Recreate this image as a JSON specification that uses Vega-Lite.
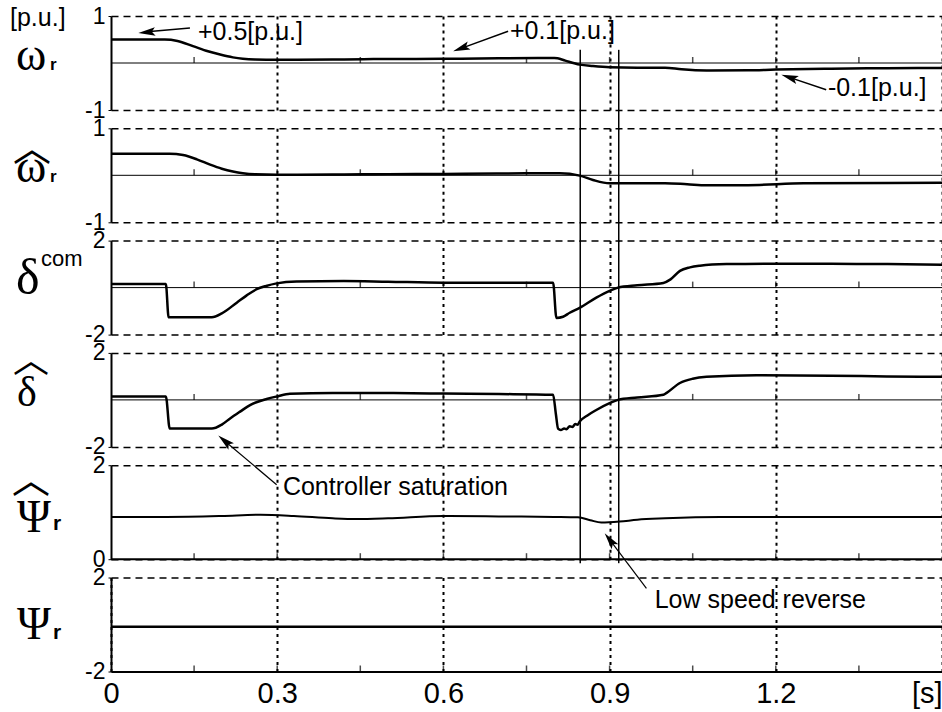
{
"$schema": "https://vega.github.io/schema/vega-lite/v6.json",
"padding": {"left": 10, "top": 5, "right": 0, "bottom": 0},
"background": "white",
"bounds": "flush",
"spacing": 18.3,
"datasets": {
"one": [{}],
"mt": [{"t":0.15},{"t":0.3},{"t":0.45},{"t":0.6},{"t":0.75},{"t":0.9},{"t":1.05},{"t":1.2},{"t":1.35}],
"sw": [{"t":0.847},{"t":0.9165}],
"w": [{"t":0,"v":0.5},{"t":0.097,"v":0.5},{"t":0.12,"v":0.47},{"t":0.148,"v":0.36},{"t":0.175,"v":0.25},{"t":0.197,"v":0.18},{"t":0.22,"v":0.12},{"t":0.238,"v":0.09},{"t":0.26,"v":0.075},{"t":0.3,"v":0.07},{"t":0.4,"v":0.075},{"t":0.5,"v":0.085},{"t":0.6,"v":0.09},{"t":0.7,"v":0.1},{"t":0.8,"v":0.106},{"t":0.806,"v":0.1},{"t":0.82,"v":0.05},{"t":0.846,"v":-0.035},{"t":0.87,"v":-0.065},{"t":0.9,"v":-0.09},{"t":0.95,"v":-0.1},{"t":1.0,"v":-0.1},{"t":1.03,"v":-0.135},{"t":1.075,"v":-0.16},{"t":1.15,"v":-0.155},{"t":1.2,"v":-0.14},{"t":1.3,"v":-0.12},{"t":1.4,"v":-0.11},{"t":1.5,"v":-0.105}],
"wh": [{"t":0,"v":0.46},{"t":0.106,"v":0.46},{"t":0.13,"v":0.43},{"t":0.155,"v":0.34},{"t":0.179,"v":0.226},{"t":0.2,"v":0.14},{"t":0.22,"v":0.08},{"t":0.238,"v":0.043},{"t":0.26,"v":0.02},{"t":0.3,"v":0.01},{"t":0.4,"v":0.015},{"t":0.5,"v":0.025},{"t":0.6,"v":0.03},{"t":0.7,"v":0.04},{"t":0.81,"v":0.043},{"t":0.846,"v":-0.007},{"t":0.87,"v":-0.1},{"t":0.9,"v":-0.17},{"t":1.0,"v":-0.17},{"t":1.04,"v":-0.19},{"t":1.075,"v":-0.21},{"t":1.15,"v":-0.21},{"t":1.25,"v":-0.17},{"t":1.5,"v":-0.16}],
"dc": [{"t":0,"v":0.15},{"t":0.099,"v":0.15},{"t":0.104,"v":-1.26},{"t":0.182,"v":-1.26},{"t":0.2,"v":-1.1},{"t":0.227,"v":-0.64},{"t":0.245,"v":-0.33},{"t":0.263,"v":-0.07},{"t":0.28,"v":0.07},{"t":0.299,"v":0.18},{"t":0.335,"v":0.26},{"t":0.42,"v":0.28},{"t":0.5,"v":0.25},{"t":0.6,"v":0.21},{"t":0.7,"v":0.21},{"t":0.798,"v":0.21},{"t":0.804,"v":-1.29},{"t":0.816,"v":-1.24},{"t":0.828,"v":-1.07},{"t":0.846,"v":-0.86},{"t":0.876,"v":-0.43},{"t":0.9,"v":-0.14},{"t":0.915,"v":0.0},{"t":0.95,"v":0.1},{"t":0.997,"v":0.2},{"t":1.01,"v":0.35},{"t":1.027,"v":0.71},{"t":1.045,"v":0.86},{"t":1.063,"v":0.93},{"t":1.111,"v":1.0},{"t":1.2,"v":1.02},{"t":1.3,"v":1.01},{"t":1.4,"v":1.0},{"t":1.5,"v":0.97}],
"dh": [{"t":0,"v":0.15},{"t":0.099,"v":0.15},{"t":0.106,"v":-1.22},{"t":0.182,"v":-1.22},{"t":0.2,"v":-1.05},{"t":0.215,"v":-0.79},{"t":0.233,"v":-0.5},{"t":0.251,"v":-0.22},{"t":0.281,"v":0.04},{"t":0.3,"v":0.15},{"t":0.323,"v":0.26},{"t":0.4,"v":0.29},{"t":0.5,"v":0.29},{"t":0.6,"v":0.27},{"t":0.7,"v":0.25},{"t":0.798,"v":0.22},{"t":0.803,"v":-0.6},{"t":0.807,"v":-1.22},{"t":0.812,"v":-1.28},{"t":0.818,"v":-1.22},{"t":0.822,"v":-1.25},{"t":0.828,"v":-1.12},{"t":0.833,"v":-1.15},{"t":0.838,"v":-1.03},{"t":0.842,"v":-1.06},{"t":0.846,"v":-0.92},{"t":0.86,"v":-0.66},{"t":0.876,"v":-0.43},{"t":0.9,"v":-0.14},{"t":0.915,"v":0.0},{"t":0.95,"v":0.1},{"t":0.997,"v":0.22},{"t":1.003,"v":0.3},{"t":1.027,"v":0.72},{"t":1.05,"v":0.9},{"t":1.075,"v":0.98},{"t":1.165,"v":1.05},{"t":1.3,"v":1.03},{"t":1.4,"v":1.0},{"t":1.5,"v":0.98}],
"ph": [{"t":0,"v":0.9},{"t":0.1,"v":0.9},{"t":0.2,"v":0.92},{"t":0.27,"v":0.945},{"t":0.33,"v":0.92},{"t":0.4,"v":0.87},{"t":0.443,"v":0.855},{"t":0.5,"v":0.87},{"t":0.6,"v":0.92},{"t":0.7,"v":0.91},{"t":0.8,"v":0.9},{"t":0.843,"v":0.89},{"t":0.865,"v":0.83},{"t":0.885,"v":0.78},{"t":0.918,"v":0.8},{"t":0.95,"v":0.84},{"t":1.0,"v":0.87},{"t":1.1,"v":0.9},{"t":1.5,"v":0.9}],
"p": [{"t":0,"v":-0.1},{"t":1.5,"v":-0.1}]
},
"vconcat": [
{"width": 831, "height": 94, "layer": [
 {"data": {"name": "w"}, "mark": {"type": "line", "color": "black", "strokeWidth": 2.5, "interpolate": "monotone"},
  "encoding": {"x": {"field": "t", "type": "quantitative", "scale": {"domain": [0, 1.5], "nice": false, "zero": false}, "axis": {"values": [0.3, 0.6, 0.9, 1.2, 1.5]}, "title": null},
   "y": {"field": "v", "type": "quantitative", "scale": {"domain": [-1, 1], "nice": false, "zero": false}, "axis": {"values": [-1, 1], "labelExpr": "datum.value < 0 ? '-' + abs(datum.value) : '' + datum.value"}, "title": null}}},
 {"data": {"name": "one"}, "mark": {"type": "rule", "color": "black", "strokeWidth": 1}, "encoding": {"y": {"datum": 0, "type": "quantitative", "title": null}}},
 {"data": {"name": "mt"}, "mark": {"type": "tick", "orient": "vertical", "size": 6, "thickness": 1.5, "color": "black", "yOffset": -3}, "encoding": {"x": {"field": "t", "type": "quantitative", "title": null}, "y": {"datum": 0, "type": "quantitative", "title": null}}},
 {"data": {"name": "sw"}, "mark": {"type": "rule", "color": "black", "strokeWidth": 1.5}, "encoding": {"x": {"field": "t", "type": "quantitative", "title": null}, "y": {"datum": 0.28, "type": "quantitative", "title": null}, "y2": {"datum": -1.42}}},
 {"data": {"name": "one"}, "mark": {"type": "text", "text": "[p.u.]", "font": "Liberation Sans", "fontSize": 25, "align": "left", "baseline": "alphabetic", "dx": -101, "dy": 10, "color": "black"}, "encoding": {"x": {"datum": 0, "type": "quantitative", "title": null}, "y": {"datum": 1, "type": "quantitative", "title": null}}},
 {"data": {"name": "one"}, "mark": {"type": "text", "text": "ω", "font": "Liberation Serif", "fontSize": 46, "align": "left", "baseline": "alphabetic", "dx": -95, "dy": 7, "color": "black"}, "encoding": {"x": {"datum": 0, "type": "quantitative", "title": null}, "y": {"datum": 0, "type": "quantitative", "title": null}}},
 {"data": {"name": "one"}, "mark": {"type": "text", "text": "r", "font": "Liberation Sans", "fontSize": 17, "fontWeight": "bold", "align": "left", "baseline": "alphabetic", "dx": -61, "dy": 7, "color": "black"}, "encoding": {"x": {"datum": 0, "type": "quantitative", "title": null}, "y": {"datum": 0, "type": "quantitative", "title": null}}},
 {"data": {"name": "one"}, "mark": {"type": "text", "text": "+0.5[p.u.]", "font": "Liberation Sans", "fontSize": 25, "align": "left", "baseline": "alphabetic", "color": "black"}, "encoding": {"x": {"datum": 0.157, "type": "quantitative", "title": null}, "y": {"datum": 0.483, "type": "quantitative", "title": null}}},
 {"data": {"name": "one"}, "mark": {"type": "rule", "color": "black", "strokeWidth": 1.5}, "encoding": {"x": {"datum": 0.1425, "type": "quantitative", "title": null}, "y": {"datum": 0.745, "type": "quantitative", "title": null}, "x2": {"datum": 0.06}, "y2": {"datum": 0.66}}},
 {"data": {"name": "one"}, "mark": {"type": "point", "shape": "M-1,0L1,-0.5L0.6,0L1,0.5Z", "filled": true, "color": "black", "opacity": 1, "size": 289, "angle": -5.5}, "encoding": {"x": {"datum": 0.0646, "type": "quantitative", "title": null}, "y": {"datum": 0.655, "type": "quantitative", "title": null}}},
 {"data": {"name": "one"}, "mark": {"type": "text", "text": "+0.1[p.u.]", "font": "Liberation Sans", "fontSize": 25, "align": "left", "baseline": "alphabetic", "color": "black"}, "encoding": {"x": {"datum": 0.72, "type": "quantitative", "title": null}, "y": {"datum": 0.517, "type": "quantitative", "title": null}}},
 {"data": {"name": "one"}, "mark": {"type": "rule", "color": "black", "strokeWidth": 1.5}, "encoding": {"x": {"datum": 0.7168, "type": "quantitative", "title": null}, "y": {"datum": 0.674, "type": "quantitative", "title": null}, "x2": {"datum": 0.632}, "y2": {"datum": 0.311}}},
 {"data": {"name": "one"}, "mark": {"type": "point", "shape": "M-1,0L1,-0.5L0.6,0L1,0.5Z", "filled": true, "color": "black", "opacity": 1, "size": 289, "angle": -20}, "encoding": {"x": {"datum": 0.632, "type": "quantitative", "title": null}, "y": {"datum": 0.311, "type": "quantitative", "title": null}}},
 {"data": {"name": "one"}, "mark": {"type": "text", "text": "-0.1[p.u.]", "font": "Liberation Sans", "fontSize": 25, "align": "left", "baseline": "alphabetic", "color": "black"}, "encoding": {"x": {"datum": 1.294, "type": "quantitative", "title": null}, "y": {"datum": -0.709, "type": "quantitative", "title": null}}},
 {"data": {"name": "one"}, "mark": {"type": "rule", "color": "black", "strokeWidth": 1.5}, "encoding": {"x": {"datum": 1.291, "type": "quantitative", "title": null}, "y": {"datum": -0.568, "type": "quantitative", "title": null}, "x2": {"datum": 1.2246}, "y2": {"datum": -0.306}}},
 {"data": {"name": "one"}, "mark": {"type": "point", "shape": "M-1,0L1,-0.5L0.6,0L1,0.5Z", "filled": true, "color": "black", "opacity": 1, "size": 289, "angle": 18.4}, "encoding": {"x": {"datum": 1.2246, "type": "quantitative", "title": null}, "y": {"datum": -0.306, "type": "quantitative", "title": null}}}
]},
{"width": 831, "height": 94, "layer": [
 {"data": {"name": "wh"}, "mark": {"type": "line", "color": "black", "strokeWidth": 2.5, "interpolate": "monotone"},
  "encoding": {"x": {"field": "t", "type": "quantitative", "scale": {"domain": [0, 1.5], "nice": false, "zero": false}, "axis": {"values": [0.3, 0.6, 0.9, 1.2, 1.5]}, "title": null},
   "y": {"field": "v", "type": "quantitative", "scale": {"domain": [-1, 1], "nice": false, "zero": false}, "axis": {"values": [-1, 1], "labelExpr": "datum.value < 0 ? '-' + abs(datum.value) : '' + datum.value"}, "title": null}}},
 {"data": {"name": "one"}, "mark": {"type": "rule", "color": "black", "strokeWidth": 1}, "encoding": {"y": {"datum": 0, "type": "quantitative", "title": null}}},
 {"data": {"name": "mt"}, "mark": {"type": "tick", "orient": "vertical", "size": 6, "thickness": 1.5, "color": "black", "yOffset": -3}, "encoding": {"x": {"field": "t", "type": "quantitative", "title": null}, "y": {"datum": 0, "type": "quantitative", "title": null}}},
 {"data": {"name": "sw"}, "mark": {"type": "rule", "color": "black", "strokeWidth": 1.5}, "encoding": {"x": {"field": "t", "type": "quantitative", "title": null}, "y": {"datum": 1, "type": "quantitative", "title": null}, "y2": {"datum": -1.42}}},
 {"data": {"name": "one"}, "mark": {"type": "text", "text": "︿", "font": "Noto Sans CJK SC", "fontSize": 38, "align": "center", "baseline": "middle", "dx": -79, "dy": -25, "color": "black"}, "encoding": {"x": {"datum": 0, "type": "quantitative", "title": null}, "y": {"datum": 0, "type": "quantitative", "title": null}}},
 {"data": {"name": "one"}, "mark": {"type": "text", "text": "ω", "font": "Liberation Serif", "fontSize": 46, "align": "left", "baseline": "alphabetic", "dx": -95, "dy": 6.3, "color": "black"}, "encoding": {"x": {"datum": 0, "type": "quantitative", "title": null}, "y": {"datum": 0, "type": "quantitative", "title": null}}},
 {"data": {"name": "one"}, "mark": {"type": "text", "text": "r", "font": "Liberation Sans", "fontSize": 17, "fontWeight": "bold", "align": "left", "baseline": "alphabetic", "dx": -61, "dy": 6.3, "color": "black"}, "encoding": {"x": {"datum": 0, "type": "quantitative", "title": null}, "y": {"datum": 0, "type": "quantitative", "title": null}}}
]},
{"width": 831, "height": 94, "layer": [
 {"data": {"name": "dc"}, "mark": {"type": "line", "color": "black", "strokeWidth": 2.5, "interpolate": "monotone"},
  "encoding": {"x": {"field": "t", "type": "quantitative", "scale": {"domain": [0, 1.5], "nice": false, "zero": false}, "axis": {"values": [0.3, 0.6, 0.9, 1.2, 1.5]}, "title": null},
   "y": {"field": "v", "type": "quantitative", "scale": {"domain": [-2, 2], "nice": false, "zero": false}, "axis": {"values": [-2, 2], "labelExpr": "datum.value < 0 ? '-' + abs(datum.value) : '' + datum.value"}, "title": null}}},
 {"data": {"name": "one"}, "mark": {"type": "rule", "color": "black", "strokeWidth": 1}, "encoding": {"y": {"datum": 0, "type": "quantitative", "title": null}}},
 {"data": {"name": "mt"}, "mark": {"type": "tick", "orient": "vertical", "size": 6, "thickness": 1.5, "color": "black", "yOffset": -3}, "encoding": {"x": {"field": "t", "type": "quantitative", "title": null}, "y": {"datum": 0, "type": "quantitative", "title": null}}},
 {"data": {"name": "sw"}, "mark": {"type": "rule", "color": "black", "strokeWidth": 1.5}, "encoding": {"x": {"field": "t", "type": "quantitative", "title": null}, "y": {"datum": 2, "type": "quantitative", "title": null}, "y2": {"datum": -2.82}}},
 {"data": {"name": "one"}, "mark": {"type": "text", "text": "δ", "font": "Liberation Serif", "fontSize": 50, "align": "left", "baseline": "alphabetic", "dx": -95, "dy": 6.7, "color": "black"}, "encoding": {"x": {"datum": 0, "type": "quantitative", "title": null}, "y": {"datum": 0, "type": "quantitative", "title": null}}},
 {"data": {"name": "one"}, "mark": {"type": "text", "text": "com", "font": "Liberation Sans", "fontSize": 22, "align": "left", "baseline": "alphabetic", "dx": -70, "dy": -21.3, "color": "black"}, "encoding": {"x": {"datum": 0, "type": "quantitative", "title": null}, "y": {"datum": 0, "type": "quantitative", "title": null}}}
]},
{"width": 831, "height": 94, "layer": [
 {"data": {"name": "dh"}, "mark": {"type": "line", "color": "black", "strokeWidth": 2.5, "interpolate": "monotone"},
  "encoding": {"x": {"field": "t", "type": "quantitative", "scale": {"domain": [0, 1.5], "nice": false, "zero": false}, "axis": {"values": [0.3, 0.6, 0.9, 1.2, 1.5]}, "title": null},
   "y": {"field": "v", "type": "quantitative", "scale": {"domain": [-2, 2], "nice": false, "zero": false}, "axis": {"values": [-2, 2], "labelExpr": "datum.value < 0 ? '-' + abs(datum.value) : '' + datum.value"}, "title": null}}},
 {"data": {"name": "one"}, "mark": {"type": "rule", "color": "black", "strokeWidth": 1}, "encoding": {"y": {"datum": 0, "type": "quantitative", "title": null}}},
 {"data": {"name": "mt"}, "mark": {"type": "tick", "orient": "vertical", "size": 6, "thickness": 1.5, "color": "black", "yOffset": -3}, "encoding": {"x": {"field": "t", "type": "quantitative", "title": null}, "y": {"datum": 0, "type": "quantitative", "title": null}}},
 {"data": {"name": "sw"}, "mark": {"type": "rule", "color": "black", "strokeWidth": 1.5}, "encoding": {"x": {"field": "t", "type": "quantitative", "title": null}, "y": {"datum": 2, "type": "quantitative", "title": null}, "y2": {"datum": -2.82}}},
 {"data": {"name": "one"}, "mark": {"type": "text", "text": "︿", "font": "Noto Sans CJK SC", "fontSize": 36, "align": "center", "baseline": "middle", "dx": -80, "dy": -38, "color": "black"}, "encoding": {"x": {"datum": 0, "type": "quantitative", "title": null}, "y": {"datum": 0, "type": "quantitative", "title": null}}},
 {"data": {"name": "one"}, "mark": {"type": "text", "text": "δ", "font": "Liberation Serif", "fontSize": 42, "align": "left", "baseline": "alphabetic", "dx": -94, "dy": 6.3, "color": "black"}, "encoding": {"x": {"datum": 0, "type": "quantitative", "title": null}, "y": {"datum": 0, "type": "quantitative", "title": null}}},
 {"data": {"name": "one"}, "mark": {"type": "rule", "color": "black", "strokeWidth": 1.2}, "encoding": {"x": {"datum": 0.299, "type": "quantitative", "title": null}, "y": {"datum": -3.61, "type": "quantitative", "title": null}, "x2": {"datum": 0.2053}, "y2": {"datum": -1.746}}},
 {"data": {"name": "one"}, "mark": {"type": "point", "shape": "M-1,0L1,-0.5L0.6,0L1,0.5Z", "filled": true, "color": "black", "opacity": 1, "size": 289, "angle": 40.5}, "encoding": {"x": {"datum": 0.2053, "type": "quantitative", "title": null}, "y": {"datum": -1.746, "type": "quantitative", "title": null}}}
]},
{"width": 831, "height": 94, "layer": [
 {"data": {"name": "ph"}, "mark": {"type": "line", "color": "black", "strokeWidth": 2, "interpolate": "monotone"},
  "encoding": {"x": {"field": "t", "type": "quantitative", "scale": {"domain": [0, 1.5], "nice": false, "zero": false}, "axis": {"values": [0.3, 0.6, 0.9, 1.2, 1.5]}, "title": null},
   "y": {"field": "v", "type": "quantitative", "scale": {"domain": [0, 2], "nice": false, "zero": false}, "axis": {"values": [0, 2], "labelExpr": "datum.value < 0 ? '-' + abs(datum.value) : '' + datum.value"}, "title": null}}},
 {"data": {"name": "one"}, "mark": {"type": "rule", "color": "black", "strokeWidth": 2}, "encoding": {"y": {"datum": 0, "type": "quantitative", "title": null}}},
 {"data": {"name": "mt"}, "mark": {"type": "tick", "orient": "vertical", "size": 6, "thickness": 1.5, "color": "black", "yOffset": -3}, "encoding": {"x": {"field": "t", "type": "quantitative", "title": null}, "y": {"datum": 0, "type": "quantitative", "title": null}}},
 {"data": {"name": "sw"}, "mark": {"type": "rule", "color": "black", "strokeWidth": 1.5}, "encoding": {"x": {"field": "t", "type": "quantitative", "title": null}, "y": {"datum": 2, "type": "quantitative", "title": null}, "y2": {"datum": -0.085}}},
 {"data": {"name": "one"}, "mark": {"type": "text", "text": "︿", "font": "Noto Sans CJK SC", "fontSize": 38, "align": "center", "baseline": "middle", "dx": -80, "dy": -77, "color": "black"}, "encoding": {"x": {"datum": 0, "type": "quantitative", "title": null}, "y": {"datum": 0, "type": "quantitative", "title": null}}},
 {"data": {"name": "one"}, "mark": {"type": "text", "text": "Ψ", "font": "Liberation Serif", "fontSize": 46, "align": "left", "baseline": "alphabetic", "dx": -94, "dy": -27.7, "color": "black"}, "encoding": {"x": {"datum": 0, "type": "quantitative", "title": null}, "y": {"datum": 0, "type": "quantitative", "title": null}}},
 {"data": {"name": "one"}, "mark": {"type": "text", "text": "r", "font": "Liberation Sans", "fontSize": 21, "fontWeight": "bold", "align": "left", "baseline": "alphabetic", "dx": -58, "dy": -29.3, "color": "black"}, "encoding": {"x": {"datum": 0, "type": "quantitative", "title": null}, "y": {"datum": 0, "type": "quantitative", "title": null}}},
 {"data": {"name": "one"}, "mark": {"type": "text", "text": "Controller saturation", "font": "Liberation Sans", "fontSize": 25, "align": "left", "baseline": "alphabetic", "color": "black"}, "encoding": {"x": {"datum": 0.3103, "type": "quantitative", "title": null}, "y": {"datum": 1.37, "type": "quantitative", "title": null}}},
 {"data": {"name": "one"}, "mark": {"type": "rule", "color": "black", "strokeWidth": 1.2}, "encoding": {"x": {"datum": 0.9665, "type": "quantitative", "title": null}, "y": {"datum": -0.62, "type": "quantitative", "title": null}, "x2": {"datum": 0.9004}, "y2": {"datum": 0.41}}},
 {"data": {"name": "one"}, "mark": {"type": "point", "shape": "M-1,0L1,-0.5L0.6,0L1,0.5Z", "filled": true, "color": "black", "opacity": 1, "size": 289, "angle": 52.8}, "encoding": {"x": {"datum": 0.9004, "type": "quantitative", "title": null}, "y": {"datum": 0.41, "type": "quantitative", "title": null}}}
]},
{"width": 831, "height": 94, "layer": [
 {"data": {"name": "p"}, "mark": {"type": "line", "color": "black", "strokeWidth": 2.5},
  "encoding": {"x": {"field": "t", "type": "quantitative", "scale": {"domain": [0, 1.5], "nice": false, "zero": false},
     "axis": {"values": [0, 0.3, 0.6, 0.9, 1.2, 1.5], "labels": true, "domain": true, "format": ".1~f", "labelExpr": "datum.value > 1.45 ? '[s]' : datum.label", "labelAlign": {"condition": {"test": "datum.value > 1.45", "value": "right"}, "value": "center"}}, "title": null},
   "y": {"field": "v", "type": "quantitative", "scale": {"domain": [-2, 2], "nice": false, "zero": false}, "axis": {"values": [-2, 2], "labelExpr": "datum.value < 0 ? '-' + abs(datum.value) : '' + datum.value"}, "title": null}}},
 {"data": {"name": "mt"}, "mark": {"type": "tick", "orient": "vertical", "size": 6, "thickness": 1.5, "color": "black", "yOffset": -3}, "encoding": {"x": {"field": "t", "type": "quantitative", "title": null}, "y": {"datum": -2, "type": "quantitative", "title": null}}},
 {"data": {"name": "one"}, "mark": {"type": "text", "text": "Ψ", "font": "Liberation Serif", "fontSize": 46, "align": "left", "baseline": "alphabetic", "dx": -94, "dy": 14.5, "color": "black"}, "encoding": {"x": {"datum": 0, "type": "quantitative", "title": null}, "y": {"datum": 0, "type": "quantitative", "title": null}}},
 {"data": {"name": "one"}, "mark": {"type": "text", "text": "r", "font": "Liberation Sans", "fontSize": 21, "fontWeight": "bold", "align": "left", "baseline": "alphabetic", "dx": -58, "dy": 14.5, "color": "black"}, "encoding": {"x": {"datum": 0, "type": "quantitative", "title": null}, "y": {"datum": 0, "type": "quantitative", "title": null}}},
 {"data": {"name": "one"}, "mark": {"type": "text", "text": "Low speed reverse", "font": "Liberation Sans", "fontSize": 25, "align": "left", "baseline": "alphabetic", "color": "black"}, "encoding": {"x": {"datum": 0.9814, "type": "quantitative", "title": null}, "y": {"datum": 0.69, "type": "quantitative", "title": null}}}
]}
],
"config": {
 "view": {"stroke": null},
 "axis": {"labelFont": "Liberation Sans", "labelColor": "black", "domainColor": "black", "tickColor": "black", "gridColor": "black", "gridOpacity": 1},
 "axisY": {"grid": true, "gridDash": [7, 5], "gridWidth": 1.5, "domainWidth": 2, "tickSize": 3, "labelPadding": 3, "labelFontSize": 23, "labelBaseline": "middle"},
 "axisX": {"grid": true, "gridDash": [3, 4], "gridWidth": 2, "ticks": false, "domain": false, "labels": false, "labelFontSize": 29, "labelPadding": 8, "domainWidth": 2, "labelFlush": false}
}
}
